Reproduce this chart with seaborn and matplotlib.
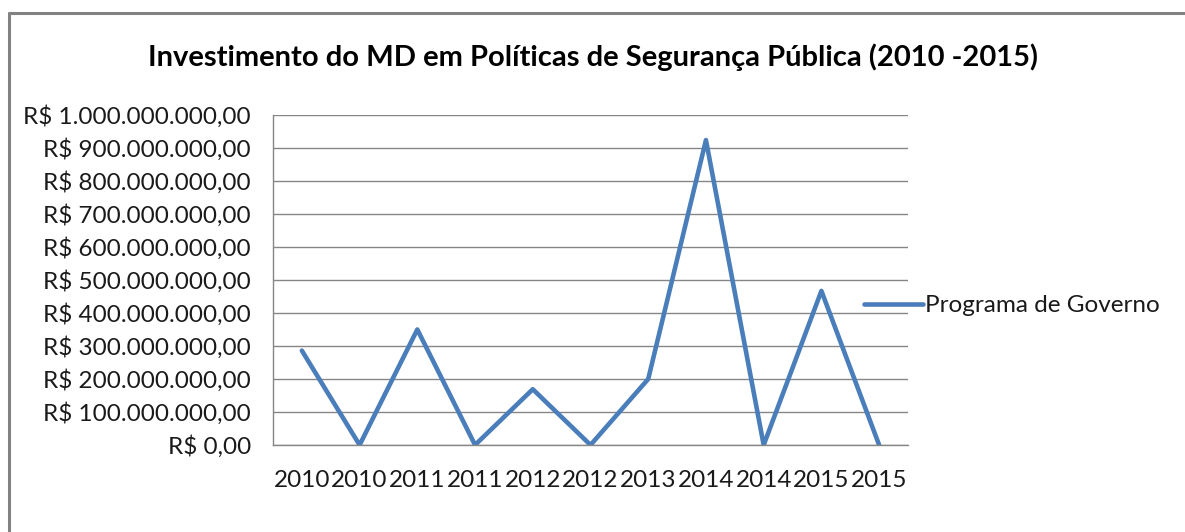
import matplotlib
matplotlib.use("Agg")
import matplotlib.pyplot as plt
from matplotlib.lines import Line2D
from matplotlib.ticker import FuncFormatter, FixedLocator
import seaborn as sns
import pandas as pd

# Investment per budget entry (R$)
categories = ["2010", "2010", "2011", "2011", "2012", "2012",
              "2013", "2014", "2014", "2015", "2015"]
values = [286e6, 0, 350e6, 0, 169e6, 0, 200e6, 924e6, 0, 467e6, 0]
series_name = "Programa de Governo"
title = "Investimento do MD em Políticas de Segurança Pública (2010 -2015)"

df = pd.DataFrame({"pos": range(len(categories)), "valor": values,
                   "serie": series_name})

sns.set_style("white")
plt.rcParams["font.family"] = ["Lato", "DejaVu Sans"]

fig = plt.figure(figsize=(11.85, 5.32), dpi=100)
ax = fig.add_axes([273 / 1185, 1 - 445 / 532, (908 - 273) / 1185, (445 - 115) / 532])

sns.lineplot(data=df, x="pos", y="valor", hue="serie", palette=["#4A7EBB"],
             linewidth=3.3, ax=ax, legend=True)

ax.set_xlim(-0.5, len(categories) - 0.5)
ax.set_ylim(0, 1e9)
ax.set_xlabel("")
ax.set_ylabel("")

# y axis: currency labels in Brazilian format
def brl(v, _pos):
    s = f"{v:,.2f}"
    s = s.replace(",", "X").replace(".", ",").replace("X", ".")
    return "R$ " + s

ax.yaxis.set_major_locator(FixedLocator([i * 1e8 for i in range(11)]))
ax.yaxis.set_major_formatter(FuncFormatter(brl))
ax.grid(axis="y", color="#868686", linewidth=1.0)
ax.grid(axis="x", visible=False)

# x axis: ticks on category boundaries, labels centred
ax.set_xticks([i - 0.5 for i in range(len(categories) + 1)])
ax.set_xticklabels([])
ax.set_xticks(range(len(categories)), minor=True)
ax.set_xticklabels(categories, minor=True)
ax.tick_params(axis="x", which="major", direction="out", length=6,
               color="#868686", width=1)
ax.tick_params(axis="x", which="minor", length=0, pad=18, labelsize=17.5,
               labelcolor="#1a1a1a")
ax.tick_params(axis="y", direction="out", length=7, color="#868686", width=1,
               labelsize=17.5, labelcolor="#1a1a1a", pad=9)

for side in ["top", "right"]:
    ax.spines[side].set_visible(False)
for side in ["left", "bottom"]:
    ax.spines[side].set_color("#868686")
    ax.spines[side].set_linewidth(1.0)

leg = ax.legend(loc="center left", bbox_to_anchor=(0.897, 0.422), frameon=False,
                fontsize=17.5, handlelength=2.39, handletextpad=0.1)
for t in leg.get_texts():
    t.set_color("#1a1a1a")

fig.text(0.5, 1 - 57 / 532, title, ha="center", va="center",
         fontsize=21, fontweight="bold", color="#000000")

# outer chart frame (top and left edges)
fig.add_artist(Line2D([8.5 / 1185, 8.5 / 1185], [0, 1 - 12.5 / 532],
                      transform=fig.transFigure, color="#828282", linewidth=2.2))
fig.add_artist(Line2D([8.5 / 1185, 1], [1 - 12.5 / 532, 1 - 12.5 / 532],
                      transform=fig.transFigure, color="#828282", linewidth=2.2))

fig.savefig("out.png", dpi=100)
